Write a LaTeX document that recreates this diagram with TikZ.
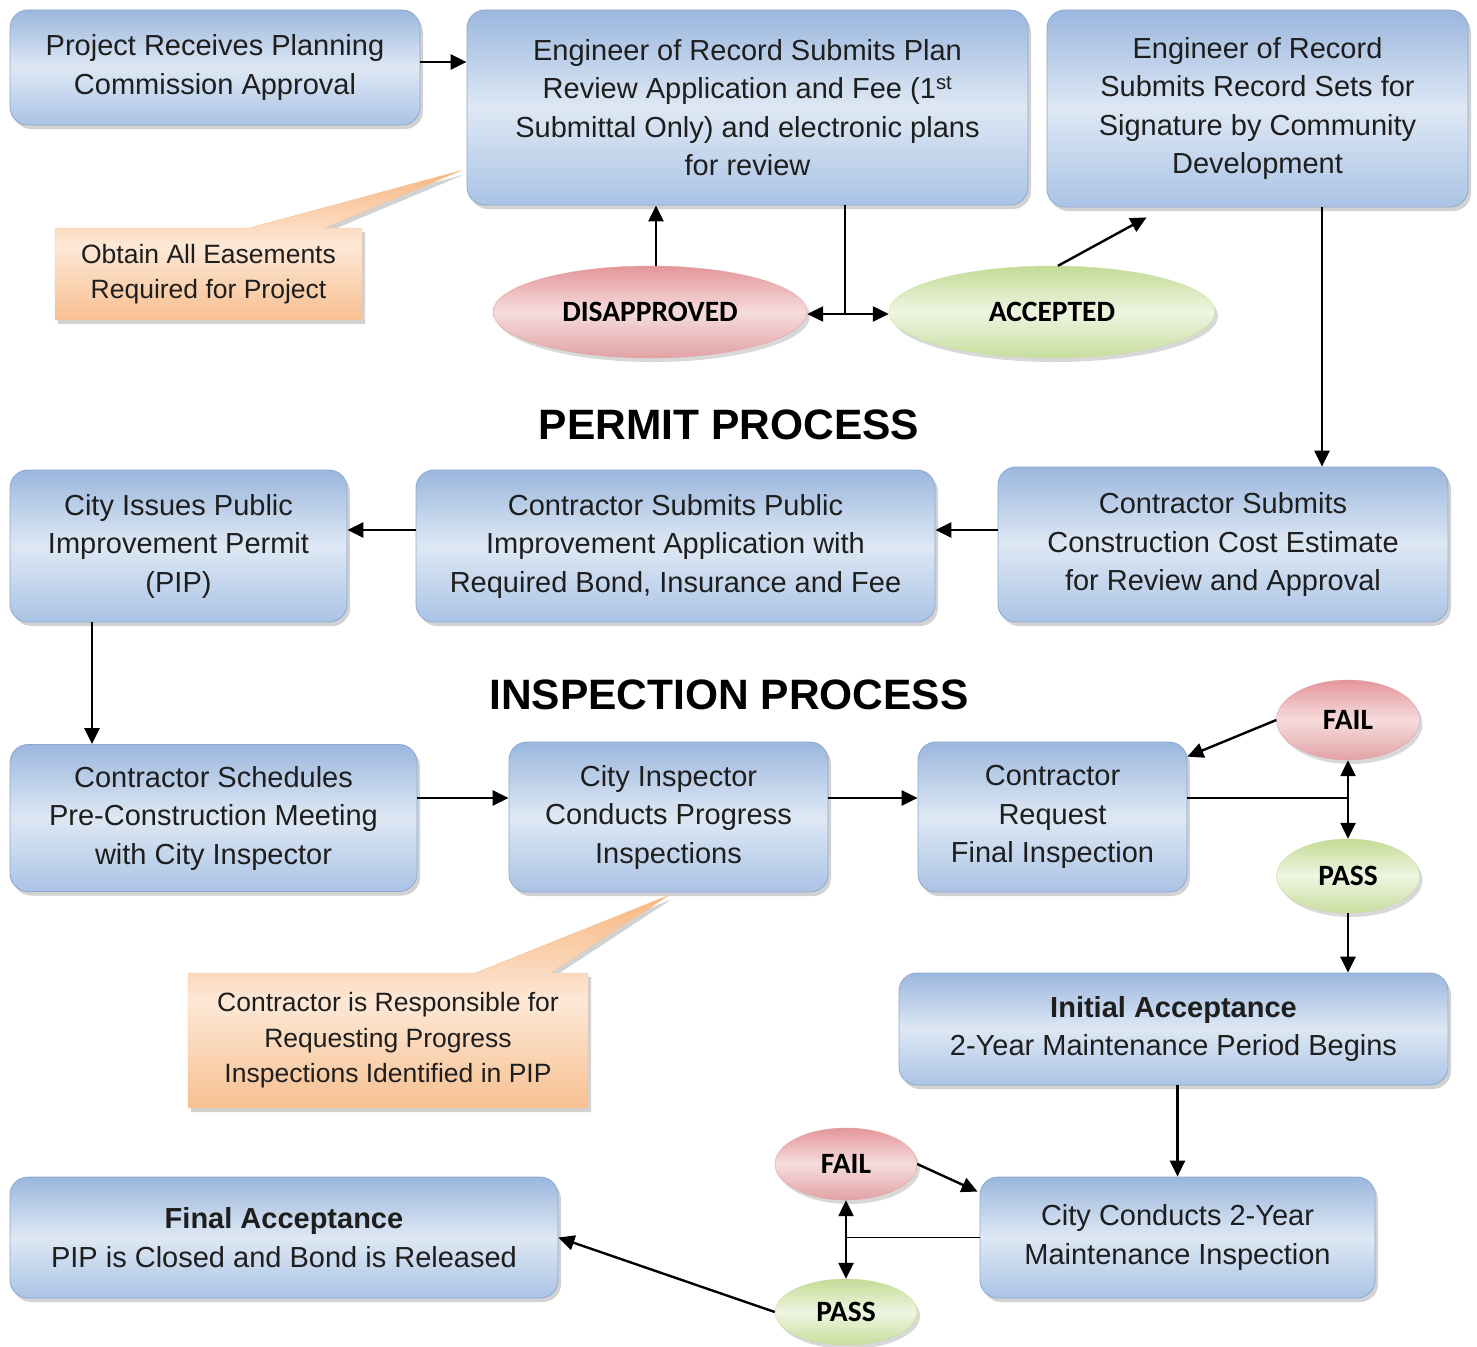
\documentclass[tikz,border=0pt]{standalone}
\usepackage{fontspec}
\setmainfont{Liberation Sans}
\newfontfamily\lblfont{Carlito}
\usetikzlibrary{shapes.geometric,shapes.callouts,shadows,arrows.meta,calc}
\definecolor{bTop}{RGB}{155,183,222}
\definecolor{bMid}{RGB}{222,232,244}
\definecolor{bBot}{RGB}{170,195,229}
\definecolor{bLine}{RGB}{140,168,208}
\definecolor{rTop}{RGB}{228,150,154}
\definecolor{rMid}{RGB}{246,220,220}
\definecolor{rBot}{RGB}{226,162,165}
\definecolor{gTop}{RGB}{196,219,150}
\definecolor{gMid}{RGB}{238,245,225}
\definecolor{gBot}{RGB}{200,222,158}
\definecolor{oTop}{RGB}{248,182,128}
\definecolor{oMid}{RGB}{253,232,214}
\definecolor{oBot}{RGB}{247,192,145}
\definecolor{txt}{RGB}{30,30,30}
\tikzset{
  box/.style={rectangle, rounded corners=18pt, draw=bLine, line width=0.8pt,
    top color=bTop, bottom color=bBot, middle color=bMid,
    drop shadow={shadow xshift=3pt, shadow yshift=-4pt, opacity=0.35},
    inner sep=0pt, align=center, text=txt, font=\fontsize{29}{38.5}\selectfont},
  oval/.style={ellipse, inner sep=0pt, text=black,
    drop shadow={shadow xshift=3pt, shadow yshift=-4pt, opacity=0.3},
    font=\lblfont\bfseries\fontsize{29.5}{32}\selectfont},
  redoval/.style={oval, draw=rBot, top color=rTop, bottom color=rBot, middle color=rMid},
  greenoval/.style={oval, draw=gBot, top color=gTop, bottom color=gBot, middle color=gMid},
  note/.style={rectangle callout, callout pointer width=75pt, inner sep=0pt,
    draw=oBot, top color=oTop, bottom color=oBot, middle color=oMid,
    drop shadow={shadow xshift=3pt, shadow yshift=-4pt, opacity=0.35},
    align=center, text=txt, font=\fontsize{26.5}{35.5}\selectfont},
  title/.style={font=\bfseries\fontsize{42.5}{46}\selectfont, text=black},
  arr/.style={line width=2.4pt, -{Triangle[length=16pt,width=15pt]}},
  dbl/.style={line width=2.4pt, {Triangle[length=16pt,width=15pt]}-{Triangle[length=16pt,width=15pt]}},
  plain/.style={line width=1.4pt}
}
\begin{document}
\begin{tikzpicture}[x=1pt,y=-1pt]
\useasboundingbox[fill=white] (0,0) rectangle (1477,1346);

% permit process
\node[box, minimum width=410pt, minimum height=115pt] (A) at (215,67.5)
  {Project Receives Planning\\Commission Approval};
\node[box, minimum width=561pt, minimum height=195pt] (B) at (747.5,107.5)
  {Engineer of Record Submits Plan\\Review Application and Fee (1\textsuperscript{st}\\Submittal Only) and electronic plans\\for review};
\node[box, minimum width=421pt, minimum height=197pt] (C) at (1257.5,108.5)
  {Engineer of Record\\Submits Record Sets for\\Signature by Community\\Development};
\node[note, minimum width=307pt, minimum height=92pt,
  callout absolute pointer={($(B.south west)+(-5,-35)$)}] (E) at (208.5,274)
  {Obtain All Easements\\Required for Project};
\node[redoval, minimum width=314pt, minimum height=92pt] (dis) at (650,312) {DISAPPROVED};
\node[greenoval, minimum width=326pt, minimum height=92pt] (acc) at (1052,312) {ACCEPTED};

\node[title] (t1) at (729,425) {PERMIT PROCESS};

\node[box, minimum width=337pt, minimum height=152pt] (D) at (178.5,546)
  {City Issues Public\\Improvement Permit\\(PIP)};
\node[box, minimum width=519pt, minimum height=152pt] (F) at (675.5,546)
  {Contractor Submits Public\\Improvement Application with\\Required Bond, Insurance and Fee};
\node[box, minimum width=450pt, minimum height=155pt] (G) at (1223,544.5)
  {Contractor Submits\\Construction Cost Estimate\\for Review and Approval};

\node[title] (t2) at (729,695) {INSPECTION PROCESS};

\node[box, minimum width=407pt, minimum height=147pt] (H) at (213.5,818)
  {Contractor Schedules\\Pre-Construction Meeting\\with City Inspector};
\node[box, minimum width=319pt, minimum height=150pt] (I) at (668.5,817)
  {City Inspector\\Conducts Progress\\Inspections};
\node[box, minimum width=269pt, minimum height=150pt] (J) at (1052.5,817)
  {Contractor\\Request\\Final Inspection};
\node[redoval, minimum width=143pt, minimum height=80pt] (fail1) at (1348,720) {FAIL};
\node[greenoval, minimum width=143pt, minimum height=74pt] (pass1) at (1348,876) {PASS};

\node[note, minimum width=400pt, minimum height=135pt,
  callout absolute pointer={($(I.south)+(0,3)$)}] (K) at (388,1040.5)
  {Contractor is Responsible for\\Requesting Progress\\Inspections Identified in PIP};

\node[box, minimum width=549pt, minimum height=112pt] (L) at (1173.5,1029)
  {\textbf{Initial Acceptance}\\2-Year Maintenance Period Begins};
\node[box, minimum width=395pt, minimum height=121pt] (M) at (1177.5,1237.5)
  {City Conducts 2-Year\\Maintenance Inspection};
\node[redoval, minimum width=142pt, minimum height=72pt] (fail2) at (846,1164) {FAIL};
\node[greenoval, minimum width=142pt, minimum height=66pt] (pass2) at (846,1312) {PASS};
\node[box, minimum width=548pt, minimum height=121pt] (N) at (284,1237.5)
  {\textbf{Final Acceptance}\\PIP is Closed and Bond is Released};

% helper coordinates
\coordinate (x845) at (845,0);
\coordinate (x1322) at (1322,0);
\coordinate (x92) at (92,0);
\coordinate (x656) at (656,0);
\coordinate (j1) at (845,314);
\coordinate (y62) at (0,62);
\coordinate (y530) at (0,530);
\coordinate (y798) at (0,798);

% connectors
\draw[arr] (A.east |- y62) -- (B.west |- y62);
\draw[arr] (dis.north -| x656) -- (B.south -| x656);
\draw[plain] (B.south -| x845) -- (j1);
\draw[dbl] (dis.east |- j1) -- (acc.west |- j1);
\draw[arr] ($(acc.north)+(6,0)$) -- ($(C.south west)+(100,10)$);
\draw[arr] (C.south -| x1322) -- (G.north -| x1322);
\draw[arr] (G.west |- y530) -- (F.east |- y530);
\draw[arr] (F.west |- y530) -- (D.east |- y530);
\draw[arr] (D.south -| x92) -- (H.north -| x92);
\draw[arr] (H.east |- y798) -- (I.west |- y798);
\draw[arr] (I.east |- y798) -- (J.west |- y798);
\draw[plain] (J.east |- y798) -- (fail1.south |- y798);
\draw[dbl] (fail1.south) -- (pass1.north);
\draw[arr] (fail1.west) -- ($(J.north east)+(0,15)$);
\draw[arr] (pass1.south) -- (pass1.south |- L.north);
\draw[arr] (M.north |- L.south) -- (M.north);
\draw[plain] (M.west) -- (M.west -| fail2.south);
\draw[dbl] (fail2.south) -- (pass2.north);
\draw[arr] (fail2.east) -- ($(M.north west)+(-2,15)$);
\draw[arr] (pass2.west) -- (N.east);
\end{tikzpicture}
\end{document}
